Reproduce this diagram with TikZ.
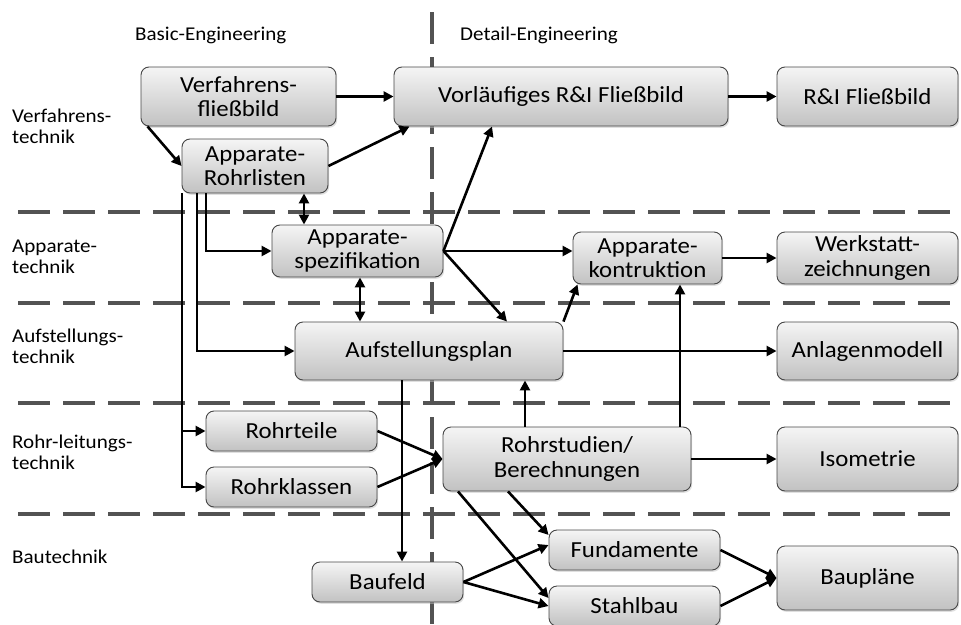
\documentclass[tikz,border=0pt]{standalone}
\usepackage{fontspec}
\setmainfont{Carlito}[FakeStretch=1.08]
\usetikzlibrary{arrows.meta,shadows,calc}
\begin{document}
\begin{tikzpicture}[x=1pt,y=-1pt,
  box/.style={rounded corners=8pt, draw=gray!55!black, line width=0.9pt,
    top color=gray!8, bottom color=gray!48, align=center,
    font=\fontsize{23}{24.5}\selectfont, inner sep=0pt,
    drop shadow={shadow xshift=1.2pt, shadow yshift=-1.8pt, fill=gray!50, opacity=0.5}},
  lab/.style={font=\fontsize{19.5}{21}\selectfont, align=left, anchor=west, inner sep=0pt},
  sep/.style={draw=gray!65!black, line width=3.6pt, dash pattern=on 32pt off 13pt},
  arr/.style={-{Triangle[length=10pt,width=10pt]}, line width=2.6pt},
  darr/.style={{Triangle[length=10pt,width=10pt]}-{Triangle[length=10pt,width=10pt]}, line width=2.6pt}]
\useasboundingbox (0,0) rectangle (961,624);
% separators
\draw[sep] (432,12) -- (432,624);
\foreach \yy in {212,303,403,514} \draw[sep] (18,\yy) -- (955,\yy);
% headings and row labels
\node[lab] (hb) at (135,35) {Basic-Engineering};
\node[lab] (hd) at (460,35) {Detail-Engineering};
\node[lab] (l1) at (12,126) {Verfahrens-\\technik};
\node[lab] (l2) at (12,257) {Apparate-\\technik};
\node[lab] (l3) at (12,346) {Aufstellungs-\\technik};
\node[lab] (l4) at (12,452) {Rohr-leitungs-\\technik};
\node[lab] (l5) at (12,557) {Bautechnik};
% boxes
\node[box, minimum width=195, minimum height=59] (vf) at (238.5,96.5) {Verfahrens-\\fließbild};
\node[box, minimum width=146, minimum height=54] (arl) at (255,166) {Apparate-\\Rohrlisten};
\node[box, minimum width=334, minimum height=59] (vri) at (561,96.5) {Vorläufiges R\&I Fließbild};
\node[box, minimum width=181, minimum height=59] (ri) at (867.5,96.5) {R\&I Fließbild};
\node[box, minimum width=171, minimum height=52] (asp) at (357.5,251) {Apparate-\\spezifikation};
\node[box, minimum width=149, minimum height=52] (ak) at (647.5,258) {Apparate-\\kontruktion};
\node[box, minimum width=181, minimum height=52] (wz) at (867.5,258) {Werkstatt-\\zeichnungen};
\node[box, minimum width=268, minimum height=58] (ap) at (429,351) {Aufstellungsplan};
\node[box, minimum width=181, minimum height=58] (am) at (867.5,351) {Anlagenmodell};
\node[box, minimum width=171, minimum height=40] (rt) at (291.5,431) {Rohrteile};
\node[box, minimum width=171, minimum height=40] (rk) at (291.5,487) {Rohrklassen};
\node[box, minimum width=248, minimum height=64] (rs) at (567,459) {Rohrstudien/\\Berechnungen};
\node[box, minimum width=181, minimum height=64] (iso) at (867.5,459) {Isometrie};
\node[box, minimum width=151, minimum height=40] (bf) at (387.5,582) {Baufeld};
\node[box, minimum width=171, minimum height=40] (fu) at (634.5,550) {Fundamente};
\node[box, minimum width=171, minimum height=40] (sb) at (634.5,606) {Stahlbau};
\node[box, minimum width=181, minimum height=64] (bp) at (867.5,578) {Baupläne};
% connectors
\draw[arr] (vf.east) -- (vri.west);
\draw[arr] ([xshift=7pt]vf.south west) -- (arl.west);
\draw[arr] (arl.east) -- ([xshift=16pt]vri.south west);
\draw[arr] (vri.east) -- (ri.west);
\draw[darr] ([xshift=49pt]arl.south) -- ([xshift=-53.5pt]asp.north);
\draw[arr] ([xshift=-49pt]arl.south) |- (asp.west);
\draw[arr] ([xshift=-58pt]arl.south) |- (ap.west);
\draw[arr] ([xshift=-73pt]arl.south) |- (rt.west);
\draw[arr] ([xshift=-73pt]arl.south) |- (rk.west);
\draw[darr] ([xshift=2.5pt]asp.south) -- ([xshift=-69pt]ap.north);
\draw[arr] (asp.east) -- ([xshift=-69pt]vri.south);
\draw[arr] (asp.east) -- (asp.east -| ak.west);
\draw[arr] (asp.east) -- ([xshift=78pt]ap.north);
\draw[arr] (ak.east) -- (wz.west);
\draw[arr] (ap.north east) -- ([xshift=5pt]ak.south west);
\draw[arr] ([xshift=113pt]rs.north) -- ([xshift=32.5pt]ak.south);
\draw[arr] ([xshift=-42pt]rs.north) -- ([xshift=96pt]ap.south);
\draw[arr] (ap.east) -- (am.west);
\draw[arr] ([xshift=-27pt]ap.south) -- ([xshift=14.5pt]bf.north);
\draw[arr] (rt.east) -- (rs.west);
\draw[arr] (rk.east) -- (rs.west);
\draw[arr] (rs.east) -- (iso.west);
\draw[arr] ([xshift=-109pt]rs.south) -- ([yshift=8pt]sb.west);
\draw[arr] ([xshift=-59pt]rs.south) -- ([yshift=15pt]fu.west);
\draw[arr] (bf.east) -- ([yshift=5pt]fu.west);
\draw[arr] (bf.east) -- (sb.west);
\draw[arr] (fu.east) -- (bp.west);
\draw[arr] (sb.east) -- (bp.west);
\end{tikzpicture}
\end{document}
